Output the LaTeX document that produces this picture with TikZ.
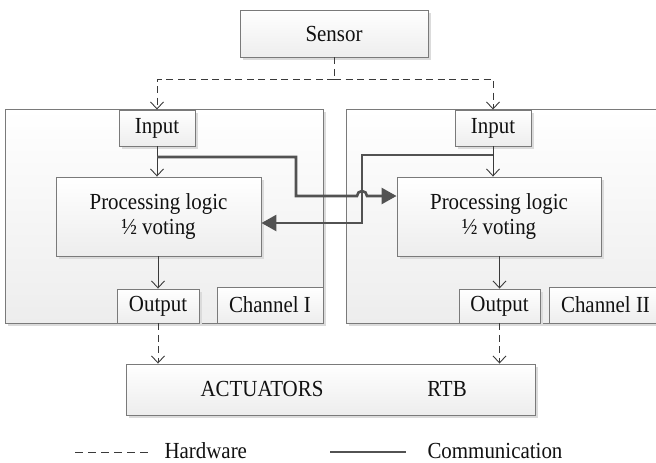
\documentclass[tikz,border=0pt]{standalone}
\usepackage{fontspec}
\setmainfont{Liberation Serif}[FakeStretch=0.91]
\usetikzlibrary{arrows.meta,shadows}

\definecolor{edgegray}{HTML}{7A7A7A}
\definecolor{commgray}{HTML}{525252}
\definecolor{hwgray}{HTML}{3A3A3A}
\definecolor{inkgray}{HTML}{111111}

\tikzset{
  txt/.style={font=\rmfamily\fontsize{23}{25}\selectfont, text=inkgray},
  block/.style={txt, draw=edgegray, line width=0.9pt, rectangle,
    top color=white, bottom color=black!7, align=center, inner sep=0pt,
    drop shadow={shadow xshift=3pt, shadow yshift=-3pt, fill=black!14, opacity=1}},
  hwline/.style={draw=hwgray, line width=0.9pt, dash pattern=on 7pt off 4.5pt},
  thinarrow/.style={draw=hwgray, line width=0.9pt, -{Straight Barb[length=7pt,width=13pt]}},
  hwarrow/.style={hwline, -{Straight Barb[length=7pt,width=13pt]}},
  commline/.style={draw=commgray, line width=2.6pt, line join=miter},
  commarrow/.style={commline, -{Triangle[length=15pt,width=16pt]}}
}

\begin{document}
\begin{tikzpicture}[x=1pt,y=-1pt]
  \useasboundingbox (0,0) rectangle (656,463);

  % two channel frames
  \node[block, minimum width=318pt, minimum height=214pt] (chL) at (164,216) {};
  \node[block, minimum width=316pt, minimum height=214pt] (chR) at (504,216) {};

  % sensor
  \node[block, minimum width=188pt, minimum height=47pt] (sensor) at (334,33.5) {Sensor};

  % channel I
  \node[block, minimum width=76pt, minimum height=36pt] (inL) at (157,128) {Input};
  \node[block, minimum width=205pt, minimum height=79pt] (procL) at (158.5,216.5)
    {Processing logic\\½ voting};
  \node[block, minimum width=82pt, minimum height=34pt] (outL) at (158,306) {Output};
  \node[block, minimum width=106pt, minimum height=36pt] (labL) at (270,305) {Channel I};

  % channel II
  \node[block, minimum width=76pt, minimum height=36pt] (inR) at (493,128) {Input};
  \node[block, minimum width=204pt, minimum height=79pt] (procR) at (499,216.5)
    {Processing logic\\½ voting};
  \node[block, minimum width=81pt, minimum height=34pt] (outR) at (499.5,306) {Output};
  \node[block, minimum width=113pt, minimum height=36pt] (labR) at (605.5,305) {Channel II};

  % actuators
  \node[block, minimum width=409pt, minimum height=51pt] (act) at (330.5,389.5) {};
  \node[txt] (actA) at (262,389) {ACTUATORS};
  \node[txt] (actB) at (447,389) {RTB};

  % hardware links
  \coordinate (split) at (334,79);
  \draw[hwline] (sensor.south) -- (split);
  \draw[hwarrow] (split) -| (inL.north);
  \draw[hwarrow] (split) -| (inR.north);
  \draw[hwarrow] (outL.south) -- (outL.south |- act.north);
  \draw[hwarrow] (outR.south) -- (outR.south |- act.north);

  % internal flow
  \draw[thinarrow] (inL.south) -- (inL.south |- procL.north);
  \draw[thinarrow] (procL.south -| outL.north) -- (outL.north);
  \draw[thinarrow] (inR.south) -- (inR.south |- procR.north);
  \draw[thinarrow] (procR.south -| outR.north) -- (outR.north);

  % cross-channel communication
  \draw[commarrow] (inR.south |- 0,155) -- (362,155) -- (362,223) -- (procL.east |- 0,223);
  \draw[commarrow] (inL.south |- 0,157) -- (296,157) -- (296,196) -- (357,196)
    arc[start angle=180, end angle=360, radius=5] -- (procR.west |- 0,196);

  % legend
  \coordinate (hwA) at (75,452);
  \coordinate (hwB) at (149,452);
  \coordinate (cmA) at (330,452);
  \coordinate (cmB) at (406,452);
  \draw[hwline, dash pattern=on 8pt off 5pt] (hwA) -- (hwB);
  \draw[commline] (cmA) -- (cmB);
  \node[txt, anchor=west] (hwT) at (161,451) {Hardware};
  \node[txt, anchor=west] (cmT) at (424,451) {Communication};
\end{tikzpicture}
\end{document}
